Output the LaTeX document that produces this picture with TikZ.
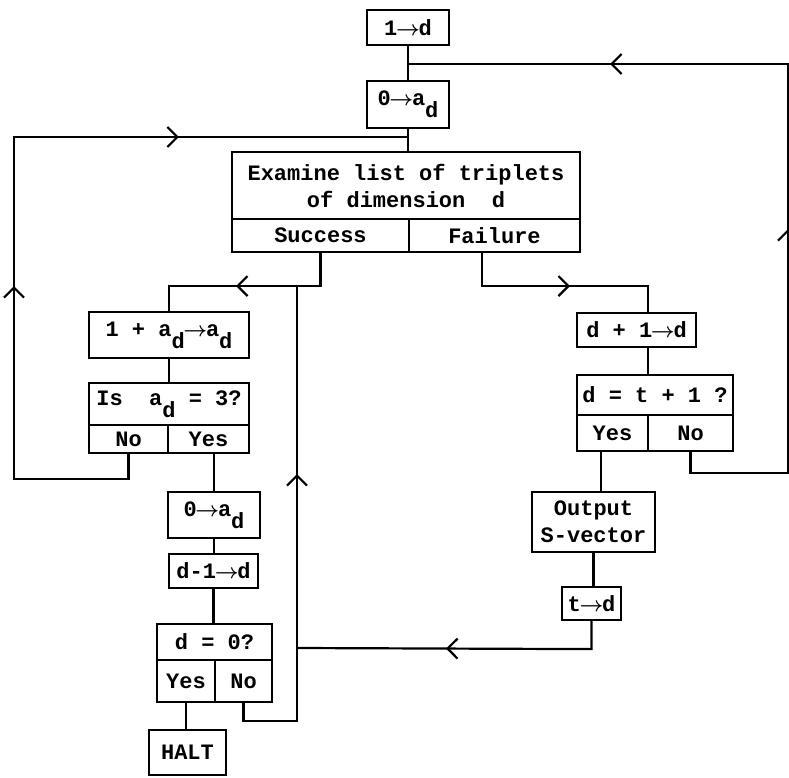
\documentclass[tikz,border=0pt]{standalone}
\usepackage{fontspec}
\setmainfont{Liberation Mono}
\usetikzlibrary{arrows.meta,decorations.markings}
\newcommand\ra{{\boldmath$\mkern-1mu\rightarrow\mkern-1mu$}}
\newcommand\sbd{\raisebox{-0.55em}{d}}
\tikzset{chev/.tip={Straight Barb[length=10pt,width=20pt]}}
\begin{document}
\begin{tikzpicture}[x=1pt,y=-1pt,
  box/.style={draw, line width=2.2pt, inner sep=0pt, align=center,
    font=\fontsize{22}{27}\selectfont\bfseries},
  sz/.style 2 args={minimum width=#1pt, minimum height=#2pt},
  conn/.style={line width=2.2pt},
  arrowat/.style={postaction={decorate}, decoration={markings,
    mark=at position #1 with {\arrow{chev}}}},
  arrowtwo/.style 2 args={postaction={decorate}, decoration={markings,
    mark=at position #1 with {\arrow{chev}},
    mark=at position #2 with {\arrow{chev}}}}]
\useasboundingbox (0,0) rectangle (789,778);

% nodes
\node[box, sz={82}{35}]  (n1)    at (408,27.5)  {1\ra d};
\node[box, sz={82}{47}]  (n2)    at (408,104.5) {0\ra a\sbd};
\node[box, sz={348}{67}] (exam)  at (406,185.5) {Examine list of triplets\\of dimension~~d};
\node[box, sz={177}{33}] (succ)  at (320.5,235.5) {Success};
\node[box, sz={171}{33}] (fail)  at (494.5,235.5) {Failure};
\node[box, sz={160}{46}] (inc)   at (169,335)   {1 + a\sbd\ra a\sbd};
\node[box, sz={160}{42}] (isq)   at (169,404)   {Is~~a\sbd{} = 3?};
\node[box, sz={79}{28}]  (isno)  at (128.5,439) {No};
\node[box, sz={81}{28}]  (isyes) at (208.5,439) {Yes};
\node[box, sz={92}{46}]  (zero2) at (214,515)   {0\ra a\sbd};
\node[box, sz={89}{34}]  (dm1)   at (213.5,571) {d-1\ra d};
\node[box, sz={115}{36}] (dz)    at (214.5,642) {d = 0?};
\node[box, sz={58}{42}]  (dzyes) at (186,681)   {Yes};
\node[box, sz={57}{42}]  (dzno)  at (243.5,681) {No};
\node[box, sz={77}{45}]  (halt)  at (187.5,752.5) {HALT};
\node[box, sz={119}{34}] (dp1)   at (636.5,330) {d + 1\ra d};
\node[box, sz={156}{40}] (dt1)   at (655,395)   {d = t + 1 ?};
\node[box, sz={71}{36}]  (dt1yes) at (612.5,433) {Yes};
\node[box, sz={85}{36}]  (dt1no) at (690.5,433) {No};
\node[box, sz={123}{60}] (out)   at (593.5,522) {Output\\S-vector};
\node[box, sz={59}{33}]  (td)    at (591.5,603.5) {t\ra d};

% junctions
\coordinate (j1) at (408,64);
\coordinate (j2) at (408,137);
\coordinate (j3) at (297,285);
\coordinate (j4) at (297,648);

% connectors
\draw[conn] (n1.south) -- (n2.north);
\draw[conn] (n2.south) -- (n2.south |- exam.north);
\draw[conn, arrowat=117.5pt] (succ.south) -- ++(0,33) -| (inc.north);
\draw[conn, arrowat=121pt] ([xshift=-12.5pt]fail.south) -- ++(0,33) -| ([xshift=11.5pt]dp1.north);
\draw[conn] ([xshift=11.5pt]dp1.south) -- ([xshift=-7pt]dt1.north);
\draw[conn] ([xshift=-11.5pt]dt1yes.south) -- ([xshift=7.5pt]out.north);
\draw[conn] (out.south) -- (out.south |- td.north);
\draw[conn, arrowat=173.5pt] (td.south) -- ++(0,28) -- (j4);
\draw[conn, arrowat=318.5pt] (dzno.south) -- ++(0,18) -| (j3);
\draw[conn] (inc.south) -- (isq.north);
\draw[conn] (zero2.north |- isyes.south) -- (zero2.north);
\draw[conn] (zero2.south) -- (zero2.south |- dm1.north);
\draw[conn] (dm1.south) -- (dm1.south |- dz.north);
\draw[conn] (dzyes.south) -- (dzyes.south |- halt.north);
\draw[conn, arrowtwo={332.5pt}{646.5pt}] (isno.south) -- ++(0,25) -| (14,137) -- (j2);
\draw[conn, arrowtwo={362.5pt}{705.5pt}] (dt1no.south) -- ++(0,21) -| (788,64) -- (j1);
\end{tikzpicture}
\end{document}
